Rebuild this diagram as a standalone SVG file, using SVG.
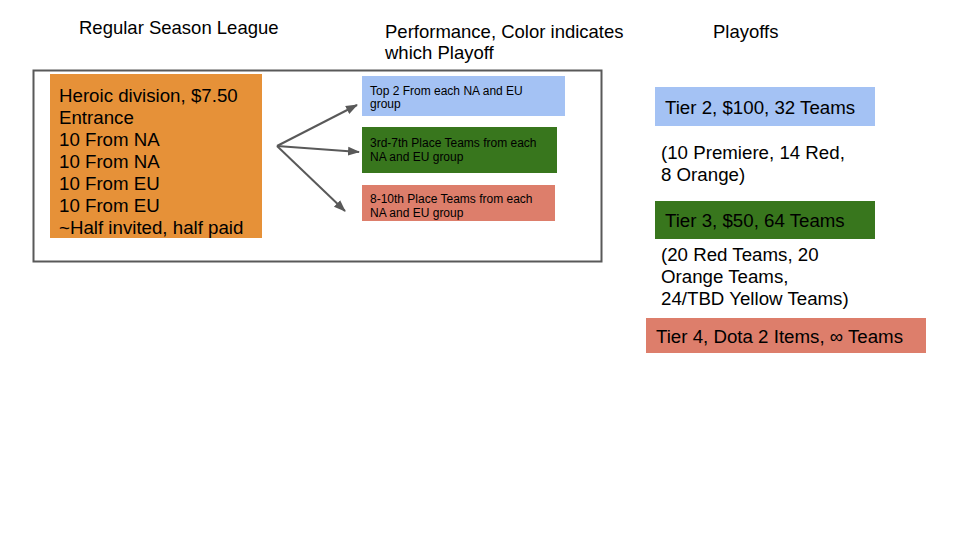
<svg xmlns="http://www.w3.org/2000/svg" width="960" height="540" viewBox="0 0 960 540">
<defs>
<marker id="ah" markerWidth="12" markerHeight="12" refX="11" refY="6" orient="auto" markerUnits="userSpaceOnUse">
<path d="M0,1.5 L12,6 L0,10.5 z" fill="#595959"/>
</marker>
<style>
text{font-family:"Liberation Sans",Arial,sans-serif;fill:#000}
.h{font-size:18.5px}
.b{font-size:18.7px}
.s{font-size:12px}
.c{stroke:#595959;stroke-width:2;fill:none;marker-end:url(#ah)}
</style>
</defs>
<rect width="960" height="540" fill="#fff"/>
<g id="titles">
<text class="h" x="79" y="34">Regular Season League</text>
<text class="h" x="385" y="38">Performance, Color indicates</text>
<text class="h" x="385" y="59">which Playoff</text>
<text class="h" x="713" y="38">Playoffs</text>
</g>
<g id="frame"><rect x="33.5" y="70.5" width="568" height="191" fill="none" stroke="#595959" stroke-width="2"/></g>
<g id="league">
<rect x="50" y="74" width="212" height="164" fill="#E69138"/>
<text class="b" x="59" y="102">Heroic division, $7.50</text>
<text class="b" x="59" y="124">Entrance</text>
<text class="b" x="59" y="146">10 From NA</text>
<text class="b" x="59" y="168">10 From NA</text>
<text class="b" x="59" y="190">10 From EU</text>
<text class="b" x="59" y="212">10 From EU</text>
<text class="b" x="59" y="234">~Half invited, half paid</text>
</g>
<g id="perf-top">
<rect x="362" y="76" width="203" height="40" fill="#A4C2F4"/>
<text class="s" x="370" y="95">Top 2 From each NA and EU</text>
<text class="s" x="370" y="108">group</text>
</g>
<g id="perf-mid">
<rect x="362" y="127" width="195" height="46" fill="#38761D"/>
<text class="s" x="370" y="147">3rd-7th Place Teams from each</text>
<text class="s" x="370" y="161">NA and EU group</text>
</g>
<g id="perf-low">
<rect x="362" y="185" width="193" height="36" fill="#DD7E6B"/>
<text class="s" x="370" y="203">8-10th Place Teams from each</text>
<text class="s" x="370" y="217">NA and EU group</text>
</g>
<g id="connectors">
<line class="c" x1="277" y1="146" x2="357" y2="105"/>
<line class="c" x1="277" y1="146" x2="359" y2="152"/>
<line class="c" x1="277" y1="146" x2="345" y2="211"/>
</g>
<g id="tier2">
<rect x="655" y="87" width="220" height="39" fill="#A4C2F4"/>
<text class="b" x="665" y="114">Tier 2, $100, 32 Teams</text>
</g>
<g id="tier2-note">
<text class="b" x="661" y="159">(10 Premiere, 14 Red,</text>
<text class="b" x="661" y="181">8 Orange)</text>
</g>
<g id="tier3">
<rect x="655" y="201" width="220" height="38" fill="#38761D"/>
<text class="b" x="665" y="227">Tier 3, $50, 64 Teams</text>
</g>
<g id="tier3-note">
<text class="b" x="661" y="261">(20 Red Teams, 20</text>
<text class="b" x="661" y="283">Orange Teams,</text>
<text class="b" x="661" y="305">24/TBD Yellow Teams)</text>
</g>
<g id="tier4">
<rect x="646" y="318" width="280" height="35" fill="#DD7E6B"/>
<text class="b" x="656" y="343">Tier 4, Dota 2 Items, ∞ Teams</text>
</g>
</svg>
